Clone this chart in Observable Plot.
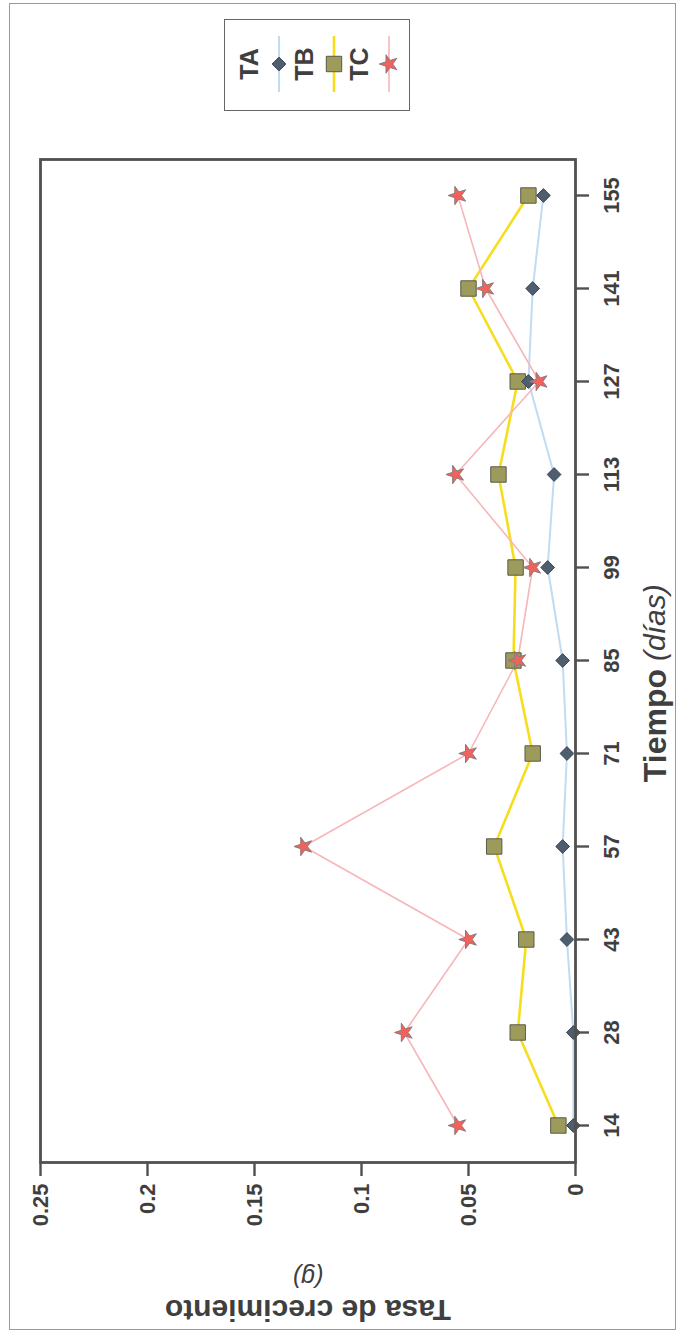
<!DOCTYPE html>
<html>
<head>
<meta charset="utf-8">
<script src="https://cdn.jsdelivr.net/npm/d3@7"></script>
<script src="https://cdn.jsdelivr.net/npm/@observablehq/plot@0.6"></script>
<style>
html, body { margin: 0; padding: 0; background: #fff; }
#page { position: relative; width: 679px; height: 1341px; overflow: hidden; background: #fff; }
#border { position: absolute; left: 9px; top: 3px; width: 667px; height: 1327px; border: 1.5px solid #9a9a9a; box-sizing: border-box; }
#rot { position: absolute; left: 0; top: 0; width: 1341px; height: 679px; transform-origin: 0 0; transform: translate(0, 1341px) rotate(-90deg); font-family: 'Liberation Sans', Arial, sans-serif; }
#legend { position: absolute; left: 1230px; top: 224px; width: 92px; height: 186px; border: 1.5px solid #666; box-sizing: border-box; background: #fff; }
#legend svg { position: absolute; left: 0; top: 0; }
</style>
</head>
<body>
<div id="page">
  <div id="border"></div>
  <div id="rot"><div id="chart"></div><div id="legend"></div></div>
</div>
<script>
// Data
const days = ["14", "28", "43", "57", "71", "85", "99", "113", "127", "141", "155"];
const seriesNames = ["TA", "TB", "TC"];
const valuesTA = [0.001, 0.001, 0.004, 0.006, 0.004, 0.006, 0.013, 0.010, 0.022, 0.020, 0.015];
const valuesTB = [0.008, 0.027, 0.023, 0.038, 0.020, 0.029, 0.028, 0.036, 0.027, 0.050, 0.022];
const valuesTC = [0.055, 0.080, 0.050, 0.127, 0.050, 0.027, 0.020, 0.056, 0.017, 0.042, 0.055];
const yTicks = [0, 0.05, 0.1, 0.15, 0.2, 0.25];
const xTitle = "Tiempo";
const xTitleUnit = "(días)";
const yTitle = "Tasa de crecimiento";
const yTitleUnit = "(g)";

// Styles
const lineColors = {TA: "#bfdcf2", TB: "#f6de1e", TC: "#f6b6ba"};
const markFill = {TA: "#4e5e6f", TB: "#9d9b5b", TC: "#f2615c"};
const markStroke = {TA: "#3c4754", TB: "#5a5a4a", TC: "#8a7a7a"};
const symbols = {TA: "diamond2", TB: "square", TC: "star"};
const symR = {TA: 6.2, TB: 8.7, TC: 5.8};
const lineW = {TA: 2, TB: 2.6, TC: 1.6};

const valuesBy = {TA: valuesTA, TB: valuesTB, TC: valuesTC};
const data = [];
seriesNames.forEach(s => days.forEach((d, j) => data.push({series: s, day: d, value: valuesBy[s][j]})));
const of = s => data.filter(d => d.series === s);

const axisColor = "#505050";
const textColor = "#3f3f3f";

const chart = Plot.plot({
  width: 1341,
  height: 679,
  marginLeft: 178,
  marginRight: 160,
  marginTop: 40,
  marginBottom: 104,
  style: {fontFamily: "'Liberation Sans', Arial, sans-serif", fontSize: "22px", fontWeight: "bold", background: "transparent", overflow: "visible"},
  x: {type: "point", domain: days, padding: 0.352},
  y: {domain: [0, 0.25]},
  marks: [
    ...seriesNames.map(s => Plot.line(of(s), {x: "day", y: "value", stroke: lineColors[s], strokeWidth: lineW[s]})),
    ...["TB", "TA", "TC"].map(s => Plot.dot(of(s), {x: "day", y: "value", symbol: symbols[s], r: symR[s], fill: markFill[s], stroke: markStroke[s], strokeWidth: 1})),
    Plot.frame({stroke: axisColor, strokeWidth: 2.8}),
    Plot.axisX({tickSize: 14, tickPadding: 14, fontSize: 22, fontWeight: "bold", color: textColor, stroke: axisColor, strokeWidth: 2.4, label: null}),
    Plot.axisY({ticks: yTicks, tickFormat: d => String(d), tickSize: 13, tickPadding: 8, fontSize: 22, fontWeight: "bold", color: textColor, stroke: axisColor, strokeWidth: 2.4, label: null}),
    Plot.text([xTitle], {frameAnchor: "bottom", text: d => d, textAnchor: "end", lineAnchor: "middle", dx: -8, dy: 80, fontSize: 32, fontWeight: "bold", fill: textColor}),
    Plot.text([xTitleUnit], {frameAnchor: "bottom", text: d => d, textAnchor: "start", lineAnchor: "middle", dx: 0, dy: 80, fontSize: 30, fontWeight: "normal", fontStyle: "italic", fill: textColor}),
    Plot.text([yTitle], {frameAnchor: "left", text: d => d, rotate: -90, textAnchor: "middle", lineAnchor: "middle", dx: -147, fontSize: 30, fontWeight: "bold", fill: textColor}),
    Plot.text([yTitleUnit], {frameAnchor: "left", text: d => d, rotate: -90, textAnchor: "middle", lineAnchor: "middle", dx: -114, fontSize: 25, fontWeight: "normal", fontStyle: "italic", fill: textColor})
  ]
});
document.getElementById("chart").appendChild(chart);

// Legend (vertical list: label above its line+marker sample)
const lg = d3.select("#legend").append("svg").attr("width", 92).attr("height", 186);
seriesNames.forEach((s, i) => {
  const yText = 24 + i * 55, ySym = 54 + i * 55;
  lg.append("text").attr("x", 46).attr("y", yText).attr("text-anchor", "middle").attr("dominant-baseline", "central")
    .attr("font-family", "'Liberation Sans', Arial, sans-serif").attr("font-size", 25).attr("font-weight", "bold").attr("fill", textColor).text(s);
  lg.append("line").attr("x1", 18).attr("x2", 74).attr("y1", ySym).attr("y2", ySym).attr("stroke", lineColors[s]).attr("stroke-width", lineW[s]);
  const sym = {diamond2: d3.symbolDiamond2, square: d3.symbolSquare, star: d3.symbolStar}[symbols[s]];
  lg.append("path").attr("transform", `translate(46,${ySym})`).attr("d", d3.symbol(sym, Math.PI * symR[s] * symR[s])())
    .attr("fill", markFill[s]).attr("stroke", markStroke[s]).attr("stroke-width", 1);
});
</script>
</body>
</html>
